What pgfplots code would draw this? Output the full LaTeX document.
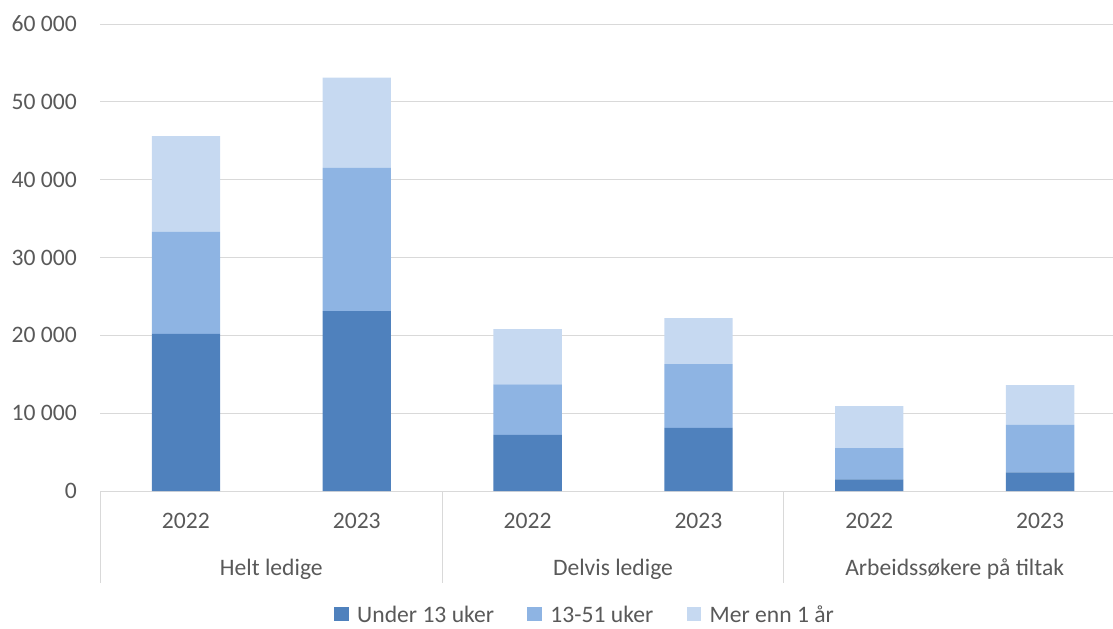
\documentclass[border=0pt]{standalone}
\usepackage{pgfplots}
\pgfplotsset{compat=1.18}
\usepackage{fontspec}
\setmainfont{Carlito}
\definecolor{c1}{HTML}{4F81BD}
\definecolor{c2}{HTML}{8EB4E3}
\definecolor{c3}{HTML}{C6D9F1}
\definecolor{txt}{HTML}{595959}
\definecolor{grd}{HTML}{D9D9D9}
\newcommand{\lbl}{\fontsize{17.7pt}{21pt}\selectfont}
\pgfplotsset{mylegend/.style={legend image code/.code={\fill[##1] (0pt,-4.5pt) rectangle (10.8pt,6.3pt);}}}
\begin{document}
\begin{tikzpicture}
\path[use as bounding box] (0,0) rectangle (834.75pt,471pt);
\begin{axis}[
  at={(75.375pt,102.75pt)}, anchor=south west,
  scale only axis, width=768.75pt, height=350.25pt,
  xmin=-0.5, xmax=5.5, ymin=0, ymax=60000,
  ybar stacked, bar width=0.4,
  axis line style={draw=none},
  ymajorgrids, grid style={grd, line width=0.75pt},
  major tick length=0pt,
  ytick={0,10000,20000,30000,40000,50000,60000},
  xtick={0,1,2,3,4,5}, xticklabels={2022,2023,2022,2023,2022,2023},
  tick label style={font=\lbl, text=txt},
  yticklabel style={anchor=east, inner sep=0pt, xshift=-17.6pt},
  xticklabel style={anchor=base, inner sep=0pt, yshift=-28.1pt},
  scaled y ticks=false,
  /pgf/number format/.cd, 1000 sep={\ }, assume math mode=true, /pgfplots/.cd,
  clip=false,
  legend columns=3,
  legend style={draw=none, fill=none, at={(0.473,-0.266)}, anchor=center, font=\lbl, text=txt,
    /tikz/every even column/.append style={column sep=23pt},
    /tikz/every odd column/.append style={column sep=4.5pt}},
]
\addplot[fill=c1, draw=none, mylegend] coordinates {(0,20200) (1,23100) (2,7200) (3,8100) (4,1500) (5,2400)};
\addplot[fill=c2, draw=none, mylegend] coordinates {(0,13100) (1,18400) (2,6500) (3,8200) (4,4000) (5,6100)};
\addplot[fill=c3, draw=none, mylegend] coordinates {(0,12300) (1,11600) (2,7100) (3,5900) (4,5400) (5,5100)};
\legend{Under 13 uker, 13-51 uker, Mer enn 1 år}
\draw[grd, line width=0.75pt] (axis cs:-0.5,0) -- ++(0pt,-69pt);
\draw[grd, line width=0.75pt] (axis cs:1.5,0) -- ++(0pt,-69pt);
\draw[grd, line width=0.75pt] (axis cs:3.5,0) -- ++(0pt,-69pt);
\draw[grd, line width=0.75pt] (axis cs:5.5,0) -- ++(0pt,-69pt);
\node[anchor=base, text=txt, font=\lbl, inner sep=0pt] at ([yshift=-63pt]axis cs:0.5,0) {Helt ledige};
\node[anchor=base, text=txt, font=\lbl, inner sep=0pt] at ([yshift=-63pt]axis cs:2.5,0) {Delvis ledige};
\node[anchor=base, text=txt, font=\lbl, inner sep=0pt] at ([yshift=-63pt]axis cs:4.5,0) {Arbeidssøkere på tiltak};
\end{axis}
\end{tikzpicture}
\end{document}
